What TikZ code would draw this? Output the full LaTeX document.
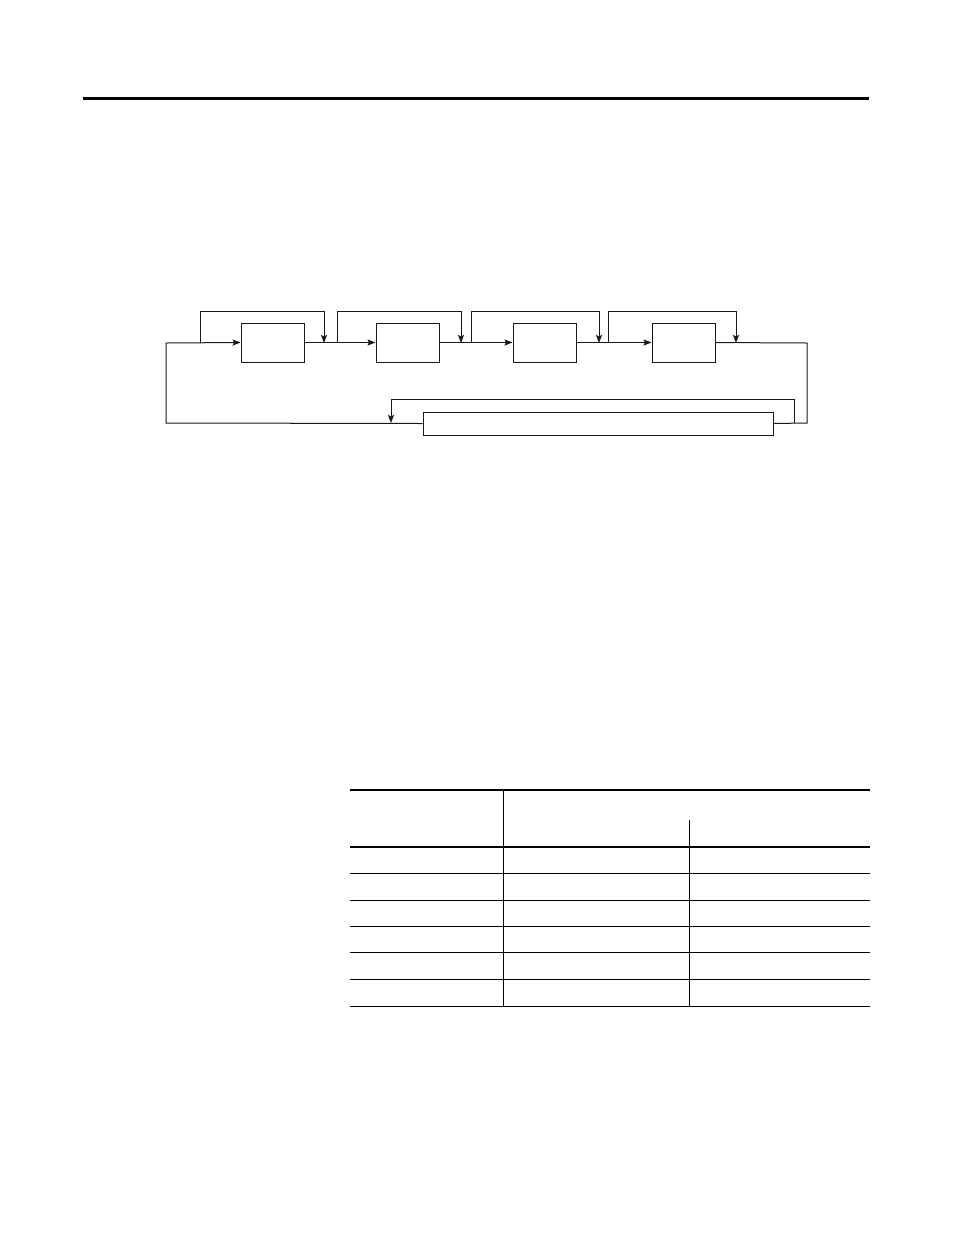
\documentclass[tikz,border=0pt]{standalone}
\usetikzlibrary{arrows.meta}
\begin{document}
\begin{tikzpicture}[x=1pt,y=-1pt,
  line/.style={draw=black!90,line width=1pt},
  arr/.style={line,-{Stealth[length=8pt,width=6pt,inset=1.5pt]}},
  blockbox/.style={draw=black!90,line width=1pt,minimum width=63pt,minimum height=39pt,inner sep=0pt},
  longbox/.style={draw=black!90,line width=1pt,minimum width=350pt,minimum height=23pt,inner sep=0pt},
  thickrule/.style={draw=black,line width=2pt},
  thinrule/.style={draw=black,line width=1pt}]
\useasboundingbox[fill=white] (0,0) rectangle (954,1235);
% page rule
\draw[draw=black,line width=3pt] (83,98.3) -- (869,98.3);

% blocks
\node[blockbox] (b1) at (272.5,342.5) {};
\node[blockbox] (b2) at (407.5,342.5) {};
\node[blockbox] (b3) at (544.5,342.5) {};
\node[blockbox] (b4) at (683.5,342.5) {};
\node[longbox] (bot) at (598,423.5) {};

% junction coordinates
\coordinate (lt) at (166,343);
\coordinate (lb) at (166,423);
\coordinate (s1) at (200,343);
\coordinate (m1) at (324,343);
\coordinate (s2) at (337,343);
\coordinate (m2) at (461,343);
\coordinate (s3) at (471,343);
\coordinate (m3) at (599,343);
\coordinate (s4) at (608,343);
\coordinate (m4) at (736,343);
\coordinate (rt) at (807,343);
\coordinate (rb) at (807,423);
\coordinate (bj) at (794,423);
\coordinate (ba) at (391,423);

% main path
\draw[arr] (bot.west) -- (lb) -- (lt) -- (b1.west);
\draw[arr] (b1.east) -- (b2.west);
\draw[arr] (b2.east) -- (b3.west);
\draw[arr] (b3.east) -- (b4.west);
\draw[line] (b4.east) -- (rt) -- (rb) -- (bot.east);

% bypass loops
\draw[arr] (s1) -- (200,311) -- (324,311) -- (m1);
\draw[arr] (s2) -- (337,311) -- (461,311) -- (m2);
\draw[arr] (s3) -- (471,311) -- (599,311) -- (m3);
\draw[arr] (s4) -- (608,311) -- (736,311) -- (m4);

% lower bypass
\draw[arr] (bj) -- (794,399) -- (391,399) -- (ba);

% table
\draw[thickrule] (350,790) -- (870,790);
\draw[thickrule] (350,847) -- (870,847);
\foreach \yy in {873.3,900,926.3,952.7,979.3,1006.3}
  \draw[thinrule] (350,\yy) -- (870,\yy);
\draw[thinrule] (503.7,790) -- (503.7,1006.3);
\draw[thinrule] (689.3,820) -- (689.3,1006.3);
\end{tikzpicture}
\end{document}
